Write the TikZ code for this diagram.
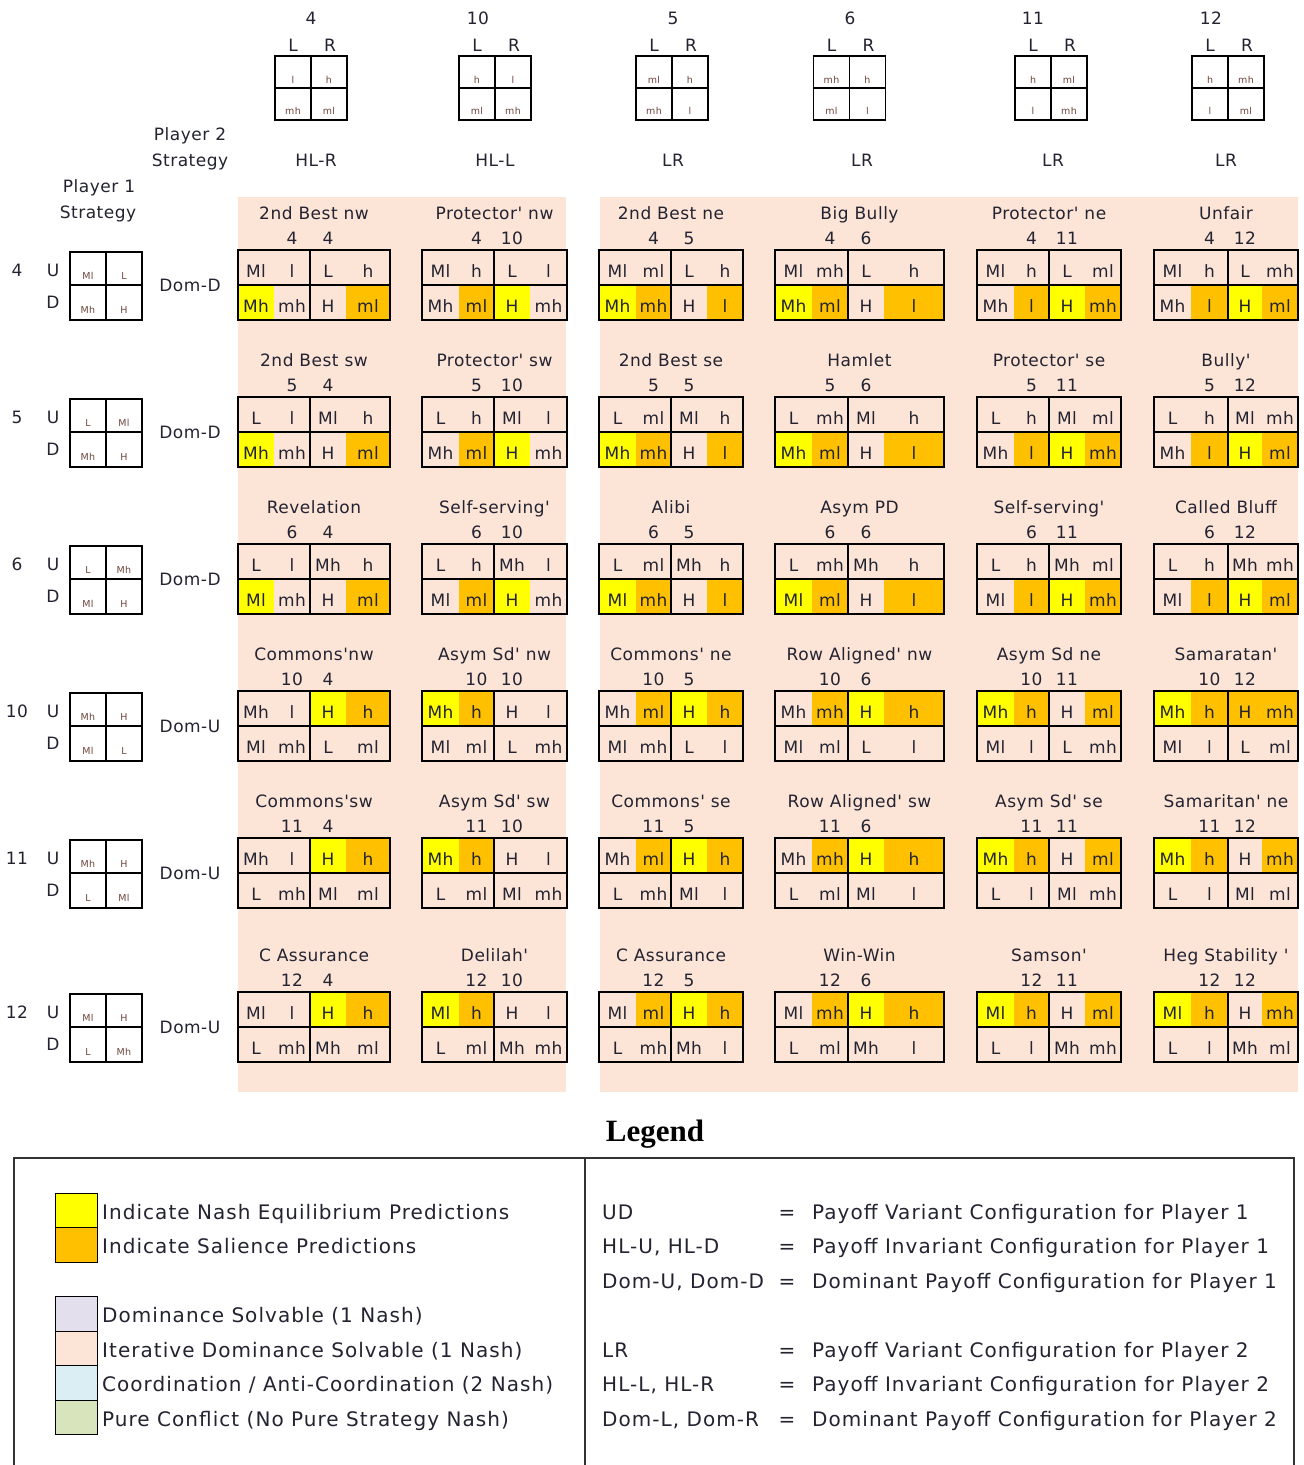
\documentclass[tikz,border=0pt]{standalone}
\usepackage{fontspec}
\setmainfont{DejaVu Sans}
\newfontfamily\gfnt[LetterSpace=3]{DejaVu Sans}
\newfontfamily\lfnt[LetterSpace=5.2]{DejaVu Sans}
\newfontfamily\smfnt[LetterSpace=3]{DejaVu Sans}
\newfontfamily\ttlfnt{Liberation Serif}
\definecolor{peach}{RGB}{252,228,214}
\definecolor{nashy}{RGB}{255,255,0}
\definecolor{salo}{RGB}{255,192,0}
\definecolor{lav}{RGB}{228,223,236}
\definecolor{lblue}{RGB}{218,238,243}
\definecolor{lgreen}{RGB}{216,228,188}
\definecolor{txtc}{RGB}{35,35,50}
\definecolor{smallc}{RGB}{110,70,60}
\tikzset{
  gt/.style={font=\gfnt\fontsize{17}{20}\selectfont, text=txtc, inner sep=0pt, anchor=base},
  st/.style={font=\smfnt\fontsize{9.5}{11}\selectfont, text=smallc, inner sep=0pt, anchor=base},
  lt/.style={font=\lfnt\fontsize{20}{24}\selectfont, text=txtc, inner sep=0pt, anchor=base west},
  sbox/.style={line width=1.5pt, draw=black},
  gframe/.style={line width=2.8pt, draw=black, line cap=rect},
  legline/.style={line width=1.5pt, draw=black!80},
  swatch/.style={draw=black, line width=1pt, minimum width=42pt, minimum height=34.5pt, inner sep=0pt},
  hl-n/.style={fill=peach}, hl-y/.style={fill=nashy}, hl-o/.style={fill=salo}, hl-w/.style={fill=white}
}
\newcommand\setcol[1]{\ifcase#1\or
 \def\xa{238}\def\xb{274}\def\xc{310}\def\xd{346}\def\xe{390}\or
 \def\xa{422}\def\xb{459}\def\xc{494}\def\xd{530}\def\xe{567}\or
 \def\xa{599}\def\xb{636}\def\xc{671}\def\xd{707}\def\xe{743}\or
 \def\xa{775}\def\xb{812}\def\xc{848}\def\xd{884}\def\xe{944}\or
 \def\xa{977}\def\xb{1014}\def\xc{1049}\def\xd{1085}\def\xe{1121}\or
 \def\xa{1154}\def\xb{1191}\def\xc{1228}\def\xd{1262}\def\xe{1298}\fi}
\newcommand\setrow[1]{\ifcase#1\or\def\yt{250}\or\def\yt{397}\or\def\yt{544}\or\def\yt{691}\or\def\yt{838}\or\def\yt{992}\fi
 \pgfmathsetmacro\ym{\yt+35}\pgfmathsetmacro\ybt{\yt+70}}
\newcommand\game[5]{\setcol{#1}\setrow{#2}\def\cur{g#2#1}%
 \node[gt] (\cur t) at ({(\xa+\xe)/2},\yt-31) {#3};
 \node[gt] (\cur na) at ({(\xb+\xc)/2},\yt-6) {#4};
 \node[gt] (\cur nb) at ({(\xc+\xd)/2},\yt-6) {#5};}
\newcommand\band[9]{%
 \ifnum#1=1 \edef\ya{\yt}\edef\yb{\ym}\else\edef\ya{\ym}\edef\yb{\ybt}\fi
 \fill[hl-#3] (\xa,\ya) rectangle (\xb,\yb);
 \fill[hl-#5] (\xb,\ya) rectangle (\xc,\yb);
 \fill[hl-#7] (\xc,\ya) rectangle (\xd,\yb);
 \fill[hl-#9] (\xd,\ya) rectangle (\xe,\yb);
 \pgfmathsetmacro\yy{(\ya+\yb)/2+10}
 \node[gt] (\cur b#1a) at ({(\xa+\xb)/2},\yy) {#2};
 \node[gt] (\cur b#1b) at ({(\xb+\xc)/2},\yy) {#4};
 \node[gt] (\cur b#1c) at ({(\xc+\xd)/2},\yy) {#6};
 \node[gt] (\cur b#1d) at ({(\xd+\xe)/2},\yy) {#8};}
\newcommand\gframe{\draw[gframe] (\xa,\yt) rectangle (\xe,\ybt);
 \draw[gframe] (\xa,\ym) -- (\xe,\ym);
 \draw[gframe] (\xc,\yt) -- (\xc,\ybt);}
\newcommand\hdr[9]{%
 \node[gt] (hn#2) at (#3,24) {#2};
 \node[gt] (hL#2) at (#1-18,51) {L};
 \node[gt] (hR#2) at (#1+19,51) {R};
 \draw[sbox] (#1-36,56) rectangle (#1+36,120);
 \draw[sbox] (#1-36,88) -- (#1+36,88);
 \draw[sbox] (#1,56) -- (#1,120);
 \node[st] (ha#2) at (#1-18,83) {#4};
 \node[st] (hb#2) at (#1+18,83) {#5};
 \node[st] (hc#2) at (#1-18,114) {#6};
 \node[st] (hd#2) at (#1+18,114) {#7};
 \node[gt] (hl#2) at (#9,166) {#8};}
\newcommand\lrow[7]{\setrow{#1}%
 \node[gt] (rn#2) at (17,\yt+26) {#2};
 \node[gt] (ru#2) at (53,\yt+26) {U};
 \node[gt] (rd#2) at (53,\yt+58) {D};
 \draw[sbox] (70,\yt+2) rectangle (142,\ybt);
 \draw[sbox] (70,\ym) -- (142,\ym);
 \draw[sbox] (106,\yt+2) -- (106,\ybt);
 \node[st] (ra#2) at (88,\yt+29) {#3};
 \node[st] (rb#2) at (124,\yt+29) {#4};
 \node[st] (rc#2) at (88,\yt+63) {#5};
 \node[st] (rdd#2) at (124,\yt+63) {#6};
 \node[gt] (rdom#2) at (190,\yt+41) {#7};}
\begin{document}
\begin{tikzpicture}[x=1pt,y=-1pt]
\useasboundingbox (0,0) rectangle (1304,1465);
\fill[white] (0,0) rectangle (1304,1465);
\fill[peach] (238,197) rectangle (566,1092);
\fill[peach] (600,197) rectangle (1298,1092);
% header
\hdr{311}{4}{311}{l}{h}{mh}{ml}{HL-R}{316}
\hdr{495}{10}{478}{h}{l}{ml}{mh}{HL-L}{495}
\hdr{672}{5}{673}{ml}{h}{mh}{l}{LR}{673}
\hdr{849.5}{6}{850}{mh}{h}{ml}{l}{LR}{862}
\hdr{1051}{11}{1033}{h}{ml}{l}{mh}{LR}{1053}
\hdr{1228}{12}{1211}{h}{mh}{l}{ml}{LR}{1226}
\node[gt] (p2a) at (190,140) {Player 2};
\node[gt] (p2b) at (190,166) {Strategy};
\node[gt] (p1a) at (99,192) {Player 1};
\node[gt] (p1b) at (98,218) {Strategy};
% left rows
\lrow{1}{4}{Ml}{L}{Mh}{H}{Dom-D}
\lrow{2}{5}{L}{Ml}{Mh}{H}{Dom-D}
\lrow{3}{6}{L}{Mh}{Ml}{H}{Dom-D}
\lrow{4}{10}{Mh}{H}{Ml}{L}{Dom-U}
\lrow{5}{11}{Mh}{H}{L}{Ml}{Dom-U}
\lrow{6}{12}{Ml}{H}{L}{Mh}{Dom-U}
% row 1
\game{1}{1}{2nd Best nw}{4}{4}
\band{1}{Ml}{n}{l}{n}{L}{n}{h}{n}\band{2}{Mh}{y}{mh}{n}{H}{n}{ml}{o}\gframe
\game{2}{1}{Protector' nw}{4}{10}
\band{1}{Ml}{n}{h}{n}{L}{n}{l}{n}\band{2}{Mh}{n}{ml}{o}{H}{y}{mh}{n}\gframe
\game{3}{1}{2nd Best ne}{4}{5}
\band{1}{Ml}{n}{ml}{n}{L}{n}{h}{n}\band{2}{Mh}{y}{mh}{o}{H}{n}{l}{o}\gframe
\game{4}{1}{Big Bully}{4}{6}
\band{1}{Ml}{n}{mh}{n}{L}{n}{h}{n}\band{2}{Mh}{y}{ml}{o}{H}{n}{l}{o}\gframe
\game{5}{1}{Protector' ne}{4}{11}
\band{1}{Ml}{n}{h}{n}{L}{n}{ml}{n}\band{2}{Mh}{n}{l}{o}{H}{y}{mh}{o}\gframe
\game{6}{1}{Unfair}{4}{12}
\band{1}{Ml}{n}{h}{n}{L}{n}{mh}{n}\band{2}{Mh}{n}{l}{o}{H}{y}{ml}{o}\gframe
% row 2
\game{1}{2}{2nd Best sw}{5}{4}
\band{1}{L}{n}{l}{n}{Ml}{n}{h}{n}\band{2}{Mh}{y}{mh}{n}{H}{n}{ml}{o}\gframe
\game{2}{2}{Protector' sw}{5}{10}
\band{1}{L}{n}{h}{n}{Ml}{n}{l}{n}\band{2}{Mh}{n}{ml}{o}{H}{y}{mh}{n}\gframe
\game{3}{2}{2nd Best se}{5}{5}
\band{1}{L}{n}{ml}{n}{Ml}{n}{h}{n}\band{2}{Mh}{y}{mh}{o}{H}{n}{l}{o}\gframe
\game{4}{2}{Hamlet}{5}{6}
\band{1}{L}{n}{mh}{n}{Ml}{n}{h}{n}\band{2}{Mh}{y}{ml}{o}{H}{n}{l}{o}\gframe
\game{5}{2}{Protector' se}{5}{11}
\band{1}{L}{n}{h}{n}{Ml}{n}{ml}{n}\band{2}{Mh}{n}{l}{o}{H}{y}{mh}{o}\gframe
\game{6}{2}{Bully'}{5}{12}
\band{1}{L}{n}{h}{n}{Ml}{n}{mh}{n}\band{2}{Mh}{n}{l}{o}{H}{y}{ml}{o}\gframe
% row 3
\game{1}{3}{Revelation}{6}{4}
\band{1}{L}{n}{l}{n}{Mh}{n}{h}{n}\band{2}{Ml}{y}{mh}{n}{H}{n}{ml}{o}\gframe
\game{2}{3}{Self-serving'}{6}{10}
\band{1}{L}{n}{h}{n}{Mh}{n}{l}{n}\band{2}{Ml}{n}{ml}{o}{H}{y}{mh}{n}\gframe
\game{3}{3}{Alibi}{6}{5}
\band{1}{L}{n}{ml}{n}{Mh}{n}{h}{n}\band{2}{Ml}{y}{mh}{o}{H}{n}{l}{o}\gframe
\game{4}{3}{Asym PD}{6}{6}
\band{1}{L}{n}{mh}{n}{Mh}{n}{h}{n}\band{2}{Ml}{y}{ml}{o}{H}{n}{l}{o}\gframe
\game{5}{3}{Self-serving'}{6}{11}
\band{1}{L}{n}{h}{n}{Mh}{n}{ml}{n}\band{2}{Ml}{n}{l}{o}{H}{y}{mh}{o}\gframe
\game{6}{3}{Called Bluff}{6}{12}
\band{1}{L}{n}{h}{n}{Mh}{n}{mh}{n}\band{2}{Ml}{n}{l}{o}{H}{y}{ml}{o}\gframe
% row 4
\game{1}{4}{Commons'nw}{10}{4}
\band{1}{Mh}{n}{l}{n}{H}{y}{h}{o}\band{2}{Ml}{n}{mh}{n}{L}{n}{ml}{n}\gframe
\game{2}{4}{Asym Sd' nw}{10}{10}
\band{1}{Mh}{y}{h}{o}{H}{n}{l}{n}\band{2}{Ml}{n}{ml}{n}{L}{n}{mh}{n}\gframe
\game{3}{4}{Commons' ne}{10}{5}
\band{1}{Mh}{n}{ml}{o}{H}{y}{h}{o}\band{2}{Ml}{n}{mh}{n}{L}{n}{l}{n}\gframe
\game{4}{4}{Row Aligned' nw}{10}{6}
\band{1}{Mh}{n}{mh}{o}{H}{y}{h}{o}\band{2}{Ml}{n}{ml}{n}{L}{n}{l}{n}\gframe
\game{5}{4}{Asym Sd ne}{10}{11}
\band{1}{Mh}{y}{h}{o}{H}{n}{ml}{o}\band{2}{Ml}{n}{l}{n}{L}{n}{mh}{n}\gframe
\game{6}{4}{Samaratan'}{10}{12}
\band{1}{Mh}{y}{h}{o}{H}{o}{mh}{o}\band{2}{Ml}{n}{l}{n}{L}{n}{ml}{n}\gframe
% row 5
\game{1}{5}{Commons'sw}{11}{4}
\band{1}{Mh}{n}{l}{n}{H}{y}{h}{o}\band{2}{L}{n}{mh}{n}{Ml}{n}{ml}{n}\gframe
\game{2}{5}{Asym Sd' sw}{11}{10}
\band{1}{Mh}{y}{h}{o}{H}{n}{l}{n}\band{2}{L}{n}{ml}{n}{Ml}{n}{mh}{n}\gframe
\game{3}{5}{Commons' se}{11}{5}
\band{1}{Mh}{n}{ml}{o}{H}{y}{h}{o}\band{2}{L}{n}{mh}{n}{Ml}{n}{l}{n}\gframe
\game{4}{5}{Row Aligned' sw}{11}{6}
\band{1}{Mh}{n}{mh}{o}{H}{y}{h}{o}\band{2}{L}{n}{ml}{n}{Ml}{n}{l}{n}\gframe
\game{5}{5}{Asym Sd' se}{11}{11}
\band{1}{Mh}{y}{h}{o}{H}{n}{ml}{o}\band{2}{L}{n}{l}{n}{Ml}{n}{mh}{n}\gframe
\game{6}{5}{Samaritan' ne}{11}{12}
\band{1}{Mh}{y}{h}{o}{H}{n}{mh}{o}\band{2}{L}{n}{l}{n}{Ml}{n}{ml}{n}\gframe
% row 6
\game{1}{6}{C Assurance}{12}{4}
\band{1}{Ml}{n}{l}{n}{H}{y}{h}{o}\band{2}{L}{n}{mh}{n}{Mh}{n}{ml}{n}\gframe
\game{2}{6}{Delilah'}{12}{10}
\band{1}{Ml}{y}{h}{o}{H}{n}{l}{n}\band{2}{L}{n}{ml}{n}{Mh}{n}{mh}{n}\gframe
\game{3}{6}{C Assurance}{12}{5}
\band{1}{Ml}{n}{ml}{o}{H}{y}{h}{o}\band{2}{L}{n}{mh}{n}{Mh}{n}{l}{n}\gframe
\game{4}{6}{Win-Win}{12}{6}
\band{1}{Ml}{n}{mh}{o}{H}{y}{h}{o}\band{2}{L}{n}{ml}{n}{Mh}{n}{l}{n}\gframe
\game{5}{6}{Samson'}{12}{11}
\band{1}{Ml}{y}{h}{o}{H}{n}{ml}{o}\band{2}{L}{n}{l}{n}{Mh}{n}{mh}{n}\gframe
\game{6}{6}{Heg Stability '}{12}{12}
\band{1}{Ml}{y}{h}{o}{H}{n}{mh}{o}\band{2}{L}{n}{l}{n}{Mh}{n}{ml}{n}\gframe
% legend
\node[font=\ttlfnt\bfseries\fontsize{31}{34}\selectfont, inner sep=0pt, anchor=base] (legtitle) at (655,1141) {Legend};
\draw[legline] (14,1465) -- (14,1158) -- (1294,1158) -- (1294,1465);
\draw[legline] (585,1158) -- (585,1465);
\node[swatch, fill=nashy] (sw1) at (76,1210.5) {};
\node[swatch, fill=salo] (sw2) at (76,1245) {};
\node[swatch, fill=lav] (sw3) at (76,1314) {};
\node[swatch, fill=peach] (sw4) at (76,1348.5) {};
\node[swatch, fill=lblue] (sw5) at (76,1383) {};
\node[swatch, fill=lgreen] (sw6) at (76,1417.5) {};
\node[lt] (lt1) at (102,1219) {Indicate Nash Equilibrium Predictions};
\node[lt] (lt2) at (102,1253) {Indicate Salience Predictions};
\node[lt] (lt3) at (102,1322) {Dominance Solvable (1 Nash)};
\node[lt] (lt4) at (102,1357) {Iterative Dominance Solvable (1 Nash)};
\node[lt] (lt5) at (102,1391) {Coordination / Anti-Coordination (2 Nash)};
\node[lt] (lt6) at (102,1426) {Pure Conflict (No Pure Strategy Nash)};
\node[lt] (ra1) at (602,1219) {UD};
\node[lt] (ra2) at (602,1253) {HL-U, HL-D};
\node[lt] (ra3) at (602,1288) {Dom-U, Dom-D};
\node[lt] (ra4) at (602,1357) {LR};
\node[lt] (ra5) at (602,1391) {HL-L, HL-R};
\node[lt] (ra6) at (602,1426) {Dom-L, Dom-R};
\foreach \yy/\nm in {1219/1,1253/2,1288/3,1357/4,1391/5,1426/6}{
  \node[lt, anchor=base] (eq\nm) at (787,\yy) {=};}
\node[lt] (rc1) at (812,1219) {Payoff Variant Configuration for Player 1};
\node[lt] (rc2) at (812,1253) {Payoff Invariant Configuration for Player 1};
\node[lt] (rc3) at (812,1288) {Dominant Payoff Configuration for Player 1};
\node[lt] (rc4) at (812,1357) {Payoff Variant Configuration for Player 2};
\node[lt] (rc5) at (812,1391) {Payoff Invariant Configuration for Player 2};
\node[lt] (rc6) at (812,1426) {Dominant Payoff Configuration for Player 2};
\end{tikzpicture}
\end{document}
